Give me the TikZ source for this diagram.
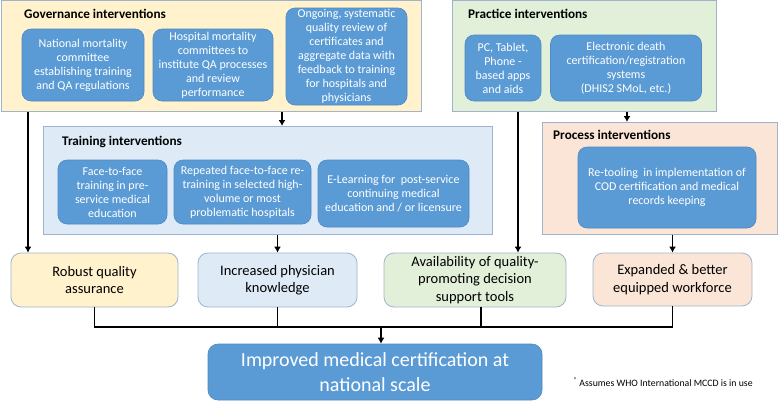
\documentclass[tikz,border=0pt]{standalone}
\usepackage{fontspec}
\setmainfont{Carlito}
\usetikzlibrary{arrows.meta, positioning, calc}
\definecolor{GovFill}{HTML}{FFF2CC}
\definecolor{TrainFill}{HTML}{DEEBF7}
\definecolor{PracFill}{HTML}{E2F0D9}
\definecolor{ProcFill}{HTML}{FBE5D6}
\definecolor{CBox}{HTML}{5B9BD5}
\definecolor{CBoxEdge}{HTML}{4F88C2}
\definecolor{CEdge}{HTML}{9FB4CC}

\begin{document}
\begin{tikzpicture}[x=1pt, y=-1pt,
    panel/.style={draw=CEdge, line width=0.8pt, anchor=north west, inner sep=0pt},
    paneltitle/.style={anchor=base west, inner sep=0pt, font=\fontsize{13.2}{15}\selectfont\bfseries},
    act/.style={rounded corners=9pt, fill=CBox, draw=CBoxEdge, line width=0.6pt, text=white,
        align=center, inner sep=1pt, font=\fontsize{12}{14}\selectfont},
    outcome/.style={rounded corners=10pt, draw=CEdge, line width=0.8pt, align=center,
        inner sep=1pt, font=\fontsize{14.5}{17.5}\selectfont},
    link/.style={line width=1.5pt},
    arr/.style={line width=1.5pt, -{Latex[length=6pt, width=7pt]}}]
    \useasboundingbox (0,0) rectangle (778,402);

    % --- Panels ---
    \node[panel, fill=GovFill, minimum width=420, minimum height=111] (gov) at (1,0) {};
    \node[panel, fill=PracFill, minimum width=264, minimum height=111] (prac) at (452,0) {};
    \node[panel, fill=TrainFill, minimum width=449, minimum height=108] (train) at (43,126) {};
    \node[panel, fill=ProcFill, minimum width=235, minimum height=112] (proc) at (542,122) {};

    \node[paneltitle] (govTitle) at (24,18) {Governance interventions};
    \node[paneltitle] (pracTitle) at (468,18) {Practice interventions};
    \node[paneltitle] (trainTitle) at (62,145) {Training interventions};
    \node[paneltitle] (procTitle) at (553,139) {Process interventions};

    % Governance
    \node[act, minimum width=122, minimum height=72] (gov1) at (83,65)
        {National mortality\\committee\\establishing training\\and QA regulations};
    \node[act, minimum width=120, minimum height=72] (gov2) at (213,65)
        {Hospital mortality\\committees to\\institute QA processes\\and review\\performance};
    \node[act, minimum width=121, minimum height=97] (gov3) at (346.5,56.5)
        {Ongoing, systematic\\quality review of\\certificates and\\aggregate data with\\feedback to training\\for hospitals and\\physicians};

    % Practice
    \node[act, minimum width=76, minimum height=66] (prac1) at (503,68)
        {PC, Tablet,\\Phone -\\based apps\\and aids};
    \node[act, minimum width=151, minimum height=66] (prac2) at (626,68)
        {Electronic death\\certification/registration\\systems\\(DHIS2 SMoL, etc.)};

    % Training
    \node[act, minimum width=109, minimum height=64] (train1) at (112.5,192)
        {Face-to-face\\training in pre-\\service medical\\education};
    \node[act, minimum width=137, minimum height=64] (train2) at (242.5,192)
        {Repeated face-to-face re-\\training in selected high-\\volume or most\\problematic hospitals};
    \node[act, minimum width=151, minimum height=67] (train3) at (393.5,193.5)
        {E-Learning for~ post-service\\continuing medical\\education and / or licensure};

    % Process
    \node[act, minimum width=178, minimum height=81] (proc1) at (667,187.5)
        {Re-tooling~ in implementation of\\COD certification and medical\\records keeping};

    % --- Outcomes ---
    \node[outcome, fill=GovFill, minimum width=167, minimum height=54] (robust) at (94.5,280)
        {Robust quality\\assurance};
    \node[outcome, fill=TrainFill, minimum width=159, minimum height=54] (knowledge) at (277.5,280)
        {Increased physician\\knowledge};
    \node[outcome, fill=PracFill, minimum width=182, minimum height=54] (tools) at (475,280)
        {Availability of quality-\\promoting decision\\support tools};
    \node[outcome, fill=ProcFill, minimum width=159, minimum height=53] (workforce) at (672.5,279.5)
        {Expanded \& better\\equipped workforce};

    \node[rounded corners=10pt, fill=CBox, draw=CBoxEdge, line width=0.6pt, text=white, align=center,
        minimum width=334, minimum height=56, font=\fontsize{20}{25}\selectfont] (final) at (375,372)
        {Improved medical certification at\\national scale};
    \node[font=\fontsize{9.8}{11}\selectfont] (note) at (663,382)
        {\textsuperscript{*} Assumes WHO International MCCD is in use};

    % --- Connectors ---
    \coordinate (govL) at (28,111);
    \coordinate (govT) at (282,111);
    \coordinate (pracL) at (518,111);
    \coordinate (pracP) at (627,111);
    \coordinate (join) at (381,327);

    \draw[arr] (gov.south -| govL) -- (govL |- robust.north);
    \draw[arr] (gov.south -| govT) -- (govT |- train.north);
    \draw[arr] (prac.south -| pracL) -- (pracL |- tools.north);
    \draw[arr] (prac.south -| pracP) -- (pracP |- proc.north);
    \draw[arr] (train.south -| knowledge.north) -- (knowledge.north);
    \draw[arr] (proc.south -| workforce.north) -- (workforce.north);

    \draw[link] (robust.south) |- (join) -| (workforce.south);
    \draw[link] (knowledge.south) -- (knowledge.south |- join);
    \draw[link] ([xshift=6pt]tools.south) -- ([xshift=6pt]tools.south |- join);
    \draw[arr] (join) -- (join |- final.north);
\end{tikzpicture}
\end{document}
